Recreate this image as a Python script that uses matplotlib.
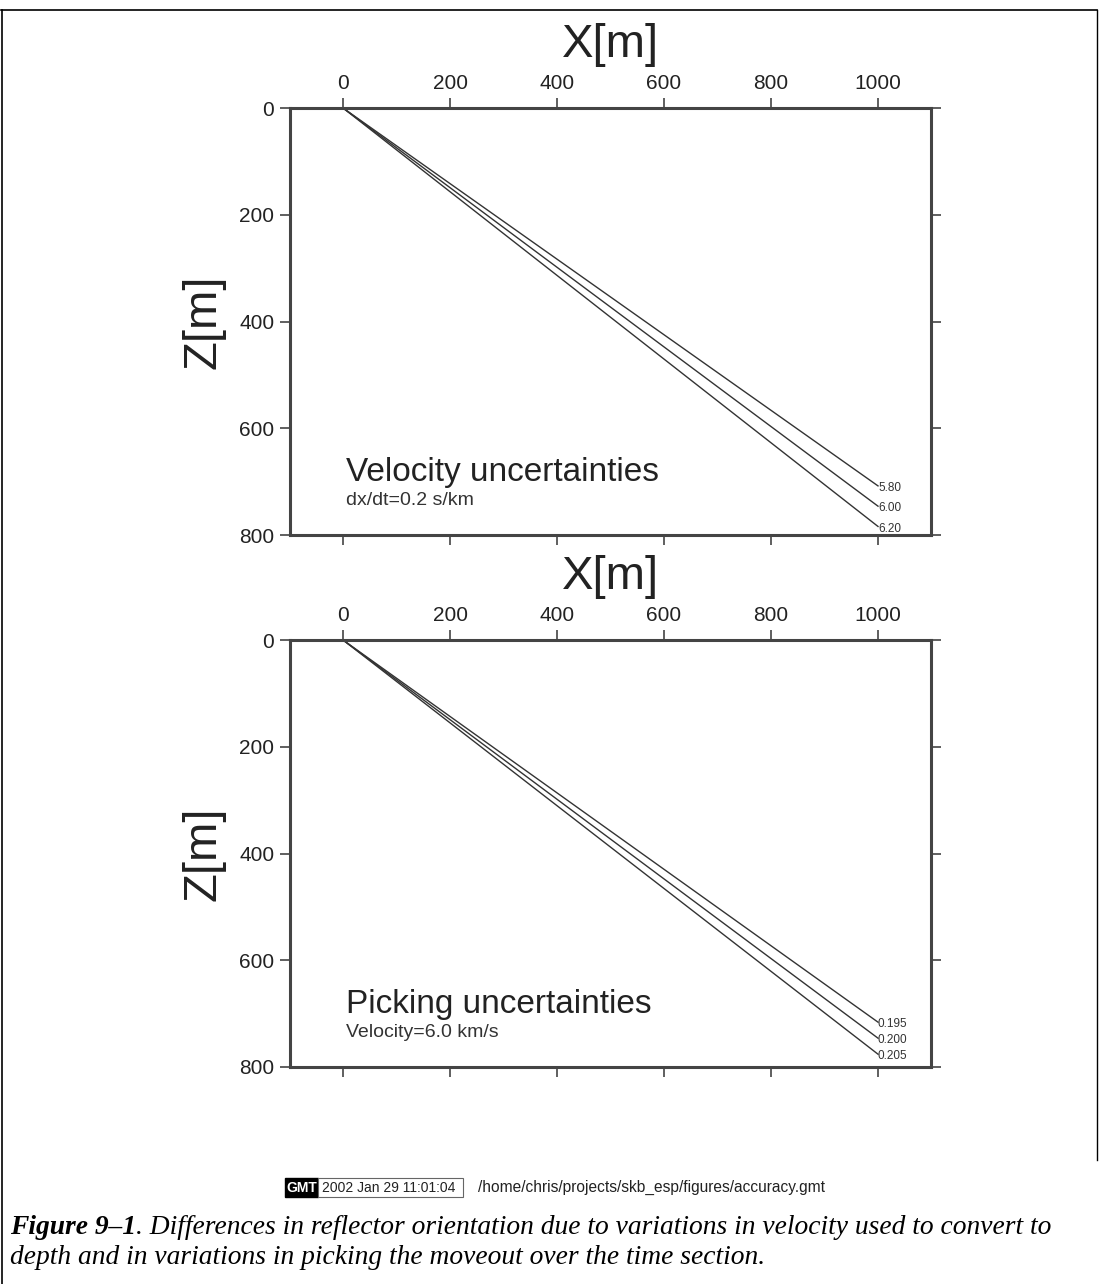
import numpy as np
import matplotlib
matplotlib.use("Agg")
import matplotlib.pyplot as plt
from matplotlib.lines import Line2D
from matplotlib.patches import Rectangle

plt.rcParams['font.family'] = ['Liberation Sans', 'DejaVu Sans']

# offsets (m) and reflector depth (m) read at the end of each line
x_end = 1000
vel_labels = ["5.80", "6.00", "6.20"]
vel_depths = [708, 746, 784]
pick_labels = ["0.195", "0.200", "0.205"]
pick_depths = [716, 746, 776]

x_ticks = [0, 200, 400, 600, 800, 1000]
z_ticks = [0, 200, 400, 600, 800]

W, H = 1106, 1284
fig = plt.figure(figsize=(W / 100, H / 100), dpi=100)

def panel(bottom, depths, labels, title, subtitle):
    ax = fig.add_axes([289.5 / W, bottom, 642 / W, 427 / H])
    for z, lab in zip(depths, labels):
        ax.plot([0, x_end], [0, z], color='#333333', lw=1.0)
        ax.text(x_end, z + 4, lab, fontsize=8.5, ha='left', va='center', color='#333333')
    ax.set_xlim(-100, 1100)
    ax.set_ylim(800, 0)
    ax.set_xticks(x_ticks)
    ax.set_yticks(z_ticks)
    ax.tick_params(which='both', direction='out', length=7, width=1.2, colors='#444444',
                   labelcolor='#222222', labelsize=15, top=True, right=True,
                   labeltop=True, labelbottom=False, pad=4)
    ax.xaxis.set_label_position('top')
    ax.set_xlabel('X[m]', fontsize=34, labelpad=12, color='#222222')
    ax.set_ylabel('Z[m]', fontsize=34, labelpad=10, color='#222222')
    for s in ax.spines.values():
        s.set_linewidth(2.2)
        s.set_color('#444444')
    ax.text(5, 683, title, fontsize=24, color='#222222', va='center')
    ax.text(5, 735, subtitle, fontsize=14, color='#333333', va='center')
    return ax

panel(1 - 535 / H, vel_depths, vel_labels, 'Velocity uncertainties', 'dx/dt=0.2 s/km')
panel(1 - 1067 / H, pick_depths, pick_labels, 'Picking uncertainties', 'Velocity=6.0 km/s')

# page frame
fig.add_artist(Line2D([1 / W, 1097 / W], [1 - 10 / H, 1 - 10 / H], color='k', lw=1.2))
fig.add_artist(Line2D([1.5 / W, 1.5 / W], [0, 1 - 10 / H], color='k', lw=1.2))
fig.add_artist(Line2D([1096.5 / W, 1096.5 / W], [1 - 1160 / H, 1 - 10 / H], color='k', lw=1.0))

# GMT time stamp
fig.add_artist(Rectangle((285 / W, 1 - 1197 / H), 33 / W, 19 / H, facecolor='black',
                         edgecolor='black', transform=fig.transFigure))
fig.add_artist(Rectangle((318 / W, 1 - 1197 / H), 145 / W, 19 / H, facecolor='white',
                         edgecolor='#666666', lw=0.8, transform=fig.transFigure))
fig.text(301.5 / W, 1 - 1187.5 / H, 'GMT', color='white', fontsize=10, fontweight='bold',
         ha='center', va='center')
fig.text(322 / W, 1 - 1187.5 / H, '2002 Jan 29 11:01:04', color='#222222', fontsize=10,
         ha='left', va='center')
fig.text(478 / W, 1 - 1187.5 / H, '/home/chris/projects/skb_esp/figures/accuracy.gmt',
         color='#222222', fontsize=11.2, ha='left', va='center')

# caption
serif = ['Liberation Serif', 'DejaVu Serif']
t1 = fig.text(10 / W, 1 - 1227 / H, 'Figure 9\u20131', family=serif, style='italic',
              fontweight='bold', fontsize=19.8, ha='left', va='center')
r = fig.canvas.get_renderer()
bb = t1.get_window_extent(renderer=r)
fig.text(bb.x1 / W, 1 - 1227 / H, '. Differences in reflector orientation due to variations '
         'in velocity used to convert to', family=serif, style='italic', fontsize=19.8,
         ha='left', va='center')
fig.text(10 / W, 1 - 1257 / H, 'depth and in variations in picking the moveout over the time section.',
         family=serif, style='italic', fontsize=19.8, ha='left', va='center')

fig.savefig('out.png', dpi=100)
